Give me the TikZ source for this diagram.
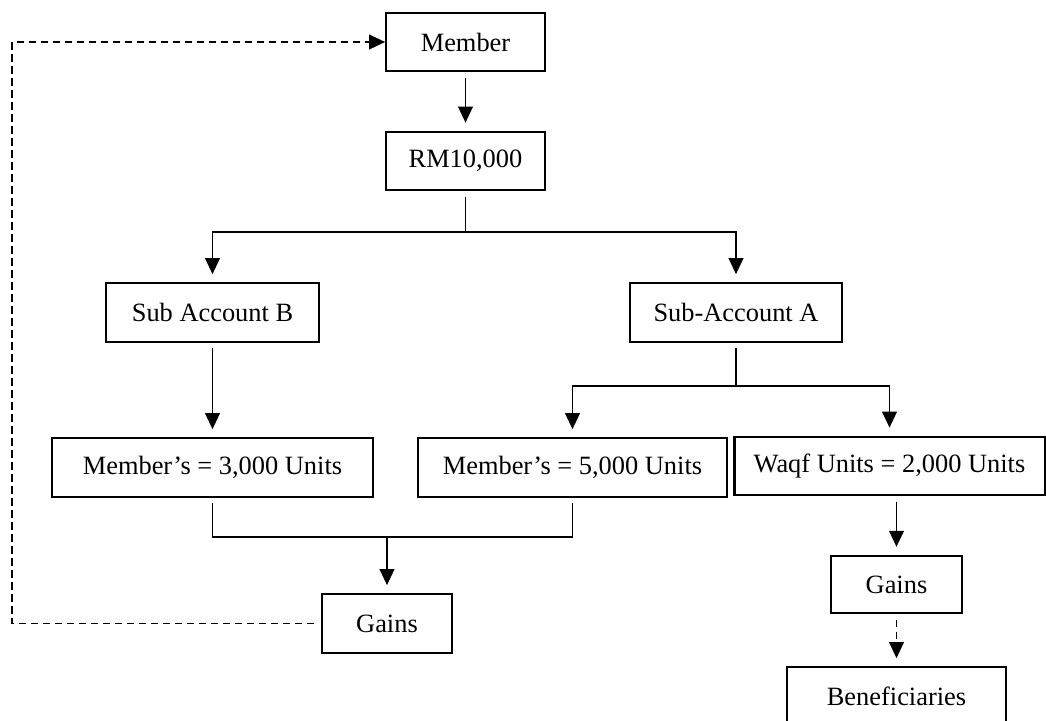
\documentclass[tikz,border=0pt]{standalone}
\usepackage{fontspec}
\setmainfont{Liberation Serif}
\usetikzlibrary{arrows.meta}

\begin{document}
\begin{tikzpicture}[x=0.75pt, y=-0.75pt, > = {Triangle[length=12pt, width=11pt]},
    box/.style = {draw, line width=1.5pt, inner sep=0pt, minimum height=44pt, font=\fontsize{19.8pt}{24pt}\selectfont},
    link/.style = {line width=1.3pt, shorten <=4pt},
    flow/.style = {link, ->, shorten >=6pt},
    dashflow/.style = {flow, dash pattern=on 5.5pt off 3.5pt}]

    % frame
    \useasboundingbox (0,0) rectangle (1046,721);
    \clip (0,0) rectangle (1046,721);

    % boxes
    \node[box, minimum width=119pt] (member) at (465.5,42) {Member};
    \node[box, minimum width=119pt] (rm) at (465.5,161) {RM10,000};
    \node[box, minimum width=160pt] (subB) at (212.5,312.5) {Sub Account B};
    \node[box, minimum width=159pt] (subA) at (736,312.5) {Sub-Account A};
    \node[box, minimum width=241pt] (memB) at (212.5,467.5) {Member’s = 3,000 Units};
    \node[box, minimum width=232pt] (memA) at (572.5,467.5) {Member’s = 5,000 Units};
    \node[box, line width=2pt, minimum width=233pt, minimum height=43.5pt] (waqf) at (889.5,466) {Waqf Units = 2,000 Units};
    \node[box, minimum width=98pt] (gainsL) at (387,623.5) {Gains};
    \node[box, minimum width=98pt, minimum height=43pt] (gainsR) at (896.5,584.5) {Gains};
    \node[box, minimum width=164pt] (benef) at (896.5,696.5) {Beneficiaries};

    % junctions
    \coordinate (forkTop) at (465.5,232);
    \coordinate (forkA) at (736,386);
    \coordinate (joinB) at (387,537);
    \coordinate (loop) at (12,42);

    % connectors
    \draw[flow] (member) -- (rm);
    \draw[link] (rm) -- (forkTop);
    \draw[flow, shorten <=0pt] (forkTop) -| (subB);
    \draw[flow, shorten <=0pt] (forkTop) -| (subA);
    \draw[flow] (subB) -- (memB);
    \draw[link] (subA) -- (forkA);
    \draw[flow, shorten <=0pt] (forkA) -| (memA);
    \draw[flow, shorten <=0pt] (forkA) -| (waqf);
    \draw[link, shorten >=4pt] (memB) |- (joinB) -| (memA);
    \draw[flow, shorten <=0pt] (joinB) -- (gainsL);
    \draw[flow] (waqf.south -| gainsR) -- (gainsR);
    \draw[dashflow] (gainsR) -- (benef);

    % feedback loop
    \draw[dashflow, shorten <=5pt, shorten >=0pt] (gainsL) -| (loop) |- (member);

\end{tikzpicture}
\end{document}
